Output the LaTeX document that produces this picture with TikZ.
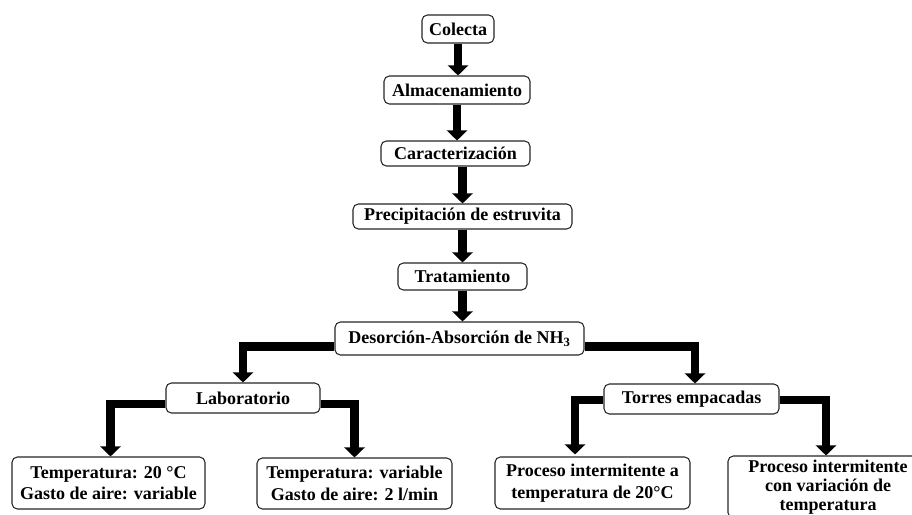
\documentclass[tikz,border=0pt]{standalone}
\usepackage{fontspec}
\setmainfont{Liberation Serif}
\usetikzlibrary{arrows.meta,calc}
\begin{document}
\begin{tikzpicture}[x=0.75pt,y=-0.75pt,
  box/.style={draw=black!85,line width=0.8pt,rounded corners=4pt,inner sep=0pt,
    align=center,fill=white,font=\fontsize{13.5}{16}\selectfont\bfseries},
  sz/.style 2 args={minimum width=#1*0.75pt,minimum height=#2*0.75pt},
  conn/.style={line width=6.5pt,-{Triangle[width=15pt,length=7.5pt]}}]
\useasboundingbox (0,0) rectangle (912,514);
\clip (0,0) rectangle (912,514);
\fill[white] (0,0) rectangle (912,514);

\node[box,sz={72}{28}] (col) at (458,29) {Colecta};
\node[box,sz={146}{28}] (alm) at (457,90) {Almacenamiento};
\node[box,sz={149}{25}] (car) at (455.5,153.5) {Caracterización};
\node[box,sz={219}{25}] (pre) at (462.5,216.5) {Precipitación de estruvita};
\node[box,sz={129}{27}] (tra) at (462.5,276.5) {Tratamiento};
\node[box,sz={249}{33}] (des) at (459.5,338.5) {Desorción-Absorción de NH\textsubscript{3}};
\node[box,sz={154}{30}] (lab) at (243,398) {Laboratorio};
\node[box,sz={175}{30}] (tor) at (691.5,399) {Torres empacadas};
\node[box,sz={193}{52}] (c1) at (108.5,483) {Temperatura: 20 °C\\Gasto de aire: variable};
\node[box,sz={195}{51}] (c2) at (354.5,483.5) {Temperatura: variable\\Gasto de aire: 2 l/min};
\node[box,sz={195}{52}] (c3) at (592.5,483) {Proceso intermitente a\\temperatura de 20°C};
\node[box,sz={200}{62},font=\fontsize{13.5}{14.5}\selectfont\bfseries] (c4) at (828,487) {Proceso intermitente\\con variación de\\temperatura};

\draw[conn] (col.south) -- (col.south |- alm.north);
\draw[conn] (alm.south) -- (alm.south |- car.north);
\draw[conn] (pre.north |- car.south) -- (pre.north);
\draw[conn] (pre.south) -- (pre.south |- tra.north);
\draw[conn] (tra.south) -- (tra.south |- des.north);
\draw[conn] ($(des.west)+(0,8)$) -| (lab.north);
\draw[conn] ($(des.east)+(0,8)$) -| ($(tor.north)+(3.5,0)$);
\draw[conn] ($(lab.west)+(0,6)$) -| ($(c1.north)+(2,0)$);
\draw[conn] ($(lab.east)+(0,6)$) -| (c2.north);
\draw[conn] ($(tor.west)+(0,1)$) -| ($(c3.north)+(-17.5,-2)$);
\draw[conn] ($(tor.east)+(0,1)$) -| ($(c4.north)+(-2,0)$);
\end{tikzpicture}
\end{document}
